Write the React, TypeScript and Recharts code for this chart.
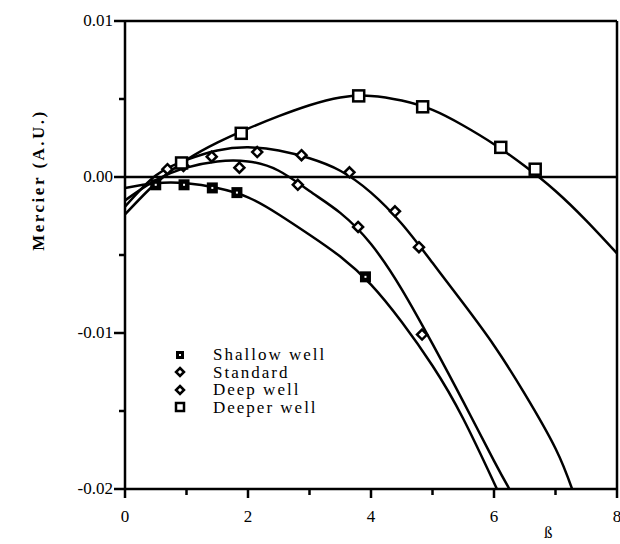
import React from 'react';
import { ComposedChart, Line, Scatter, XAxis, YAxis, ReferenceLine } from 'recharts';

// fitted curves
const shallowCurve = [
  { x: 0, y: -0.0007 }, { x: 0.5, y: -0.0004 }, { x: 1, y: -0.0004 }, { x: 1.5, y: -0.0007 },
  { x: 2, y: -0.0013 }, { x: 2.5, y: -0.0024 }, { x: 3, y: -0.0037 }, { x: 3.5, y: -0.0051 },
  { x: 4, y: -0.0069 }, { x: 4.5, y: -0.0093 }, { x: 5, y: -0.0121 }, { x: 5.5, y: -0.0155 },
  { x: 6, y: -0.0196 }, { x: 6.05, y: -0.02 },
];
const standardCurve = [
  { x: 0, y: -0.0015 }, { x: 0.5, y: -0.0002 }, { x: 1, y: 0.0006 }, { x: 1.5, y: 0.001 },
  { x: 2, y: 0.001 }, { x: 2.5, y: 0.0004 }, { x: 3, y: -0.0009 }, { x: 3.5, y: -0.0023 },
  { x: 4, y: -0.0043 }, { x: 4.5, y: -0.0072 }, { x: 5, y: -0.0107 }, { x: 5.5, y: -0.0144 },
  { x: 6, y: -0.0182 }, { x: 6.25, y: -0.02 },
];
const deepCurve = [
  { x: 0, y: -0.0019 }, { x: 0.5, y: 0.0001 }, { x: 1, y: 0.0011 }, { x: 1.5, y: 0.0017 },
  { x: 2, y: 0.0019 }, { x: 2.5, y: 0.0017 }, { x: 3, y: 0.0012 }, { x: 3.5, y: 0.0004 },
  { x: 4, y: -0.001 }, { x: 4.5, y: -0.003 }, { x: 5, y: -0.0055 }, { x: 5.5, y: -0.0081 },
  { x: 6, y: -0.0108 }, { x: 6.5, y: -0.0139 }, { x: 7, y: -0.0174 }, { x: 7.27, y: -0.02 },
];
const deeperCurve = [
  { x: 0, y: -0.0024 }, { x: 0.5, y: -0.0004 }, { x: 1, y: 0.0011 }, { x: 1.5, y: 0.0022 },
  { x: 2, y: 0.0031 }, { x: 2.5, y: 0.0039 }, { x: 3, y: 0.0046 }, { x: 3.5, y: 0.0051 },
  { x: 4, y: 0.0052 }, { x: 4.5, y: 0.0049 }, { x: 5, y: 0.0043 }, { x: 5.5, y: 0.0033 },
  { x: 6, y: 0.0021 }, { x: 6.5, y: 0.0007 }, { x: 7, y: -0.0009 }, { x: 7.5, y: -0.0028 },
  { x: 8, y: -0.0049 },
];

// measured points
const shallowPts = [
  { x: 0.5, y: -0.0005 }, { x: 0.96, y: -0.0005 }, { x: 1.42, y: -0.0007 },
  { x: 1.82, y: -0.001 }, { x: 3.91, y: -0.0064 },
];
const standardPts = [
  { x: 0.69, y: 0.0005 }, { x: 1.86, y: 0.0006 }, { x: 2.81, y: -0.0005 },
  { x: 3.79, y: -0.0032 }, { x: 4.83, y: -0.0101 },
];
const deepPts = [
  { x: 0.95, y: 0.0007 }, { x: 1.41, y: 0.0013 }, { x: 2.15, y: 0.0016 }, { x: 2.87, y: 0.0014 },
  { x: 3.65, y: 0.0003 }, { x: 4.39, y: -0.0022 }, { x: 4.78, y: -0.0045 },
];
const deeperPts = [
  { x: 0.92, y: 0.0009 }, { x: 1.89, y: 0.0028 }, { x: 3.8, y: 0.0052 },
  { x: 4.84, y: 0.0045 }, { x: 6.11, y: 0.0019 }, { x: 6.67, y: 0.0005 },
];

const xTicks = [0, 1, 2, 3, 4, 5, 6, 7, 8];
const xLabelled = [0, 2, 4, 6, 8];
const yTicks = [-0.02, -0.015, -0.01, -0.005, 0, 0.005, 0.01];
const yLabelled = [-0.02, -0.01, 0, 0.01];
const legendLabels = ['Shallow well', 'Standard', 'Deep well', 'Deeper well'];

const FONT = "'Liberation Serif', 'Times New Roman', 'DejaVu Serif', serif";

const XTick = (props: any) => {
  const { x, y, payload } = props;
  const major = xLabelled.includes(payload.value);
  return (
    <g>
      <line x1={x} x2={x} y1={y} y2={y + (major ? 9 : 6)} stroke="#000" strokeWidth={2.5} />
      {major && (
        <text x={x} y={y + 33} textAnchor="middle" style={{ fontFamily: FONT }} fontSize={17} fill="#000">
          {payload.value}
        </text>
      )}
    </g>
  );
};

const YTick = (props: any) => {
  const { x, y, payload } = props;
  const major = yLabelled.some(v => Math.abs(v - payload.value) < 1e-9);
  return (
    <g>
      <line x1={x} x2={x - (major ? 11 : 6)} y1={y} y2={y} stroke="#000" strokeWidth={2.5} />
      {major && (
        <text x={x - 12} y={y + 1} textAnchor="end" dominantBaseline="middle" style={{ fontFamily: FONT }} fontSize={17} fill="#000">
          {payload.value.toFixed(2)}
        </text>
      )}
    </g>
  );
};

const FilledSquare = ({ cx, cy, s = 11 }: any) => (
  <g>
    <rect x={cx - s / 2} y={cy - s / 2} width={s} height={s} fill="#000" />
    <rect x={cx - 1} y={cy - 1} width={2} height={2} fill="#fff" />
  </g>
);
const Diamond = ({ cx, cy, s = 11 }: any) => {
  const h = s / 2;
  return (
    <path d={`M${cx},${cy - h} L${cx + h},${cy} L${cx},${cy + h} L${cx - h},${cy} Z`} fill="#fff" stroke="#000" strokeWidth={2.5} />
  );
};
const OpenSquare = ({ cx, cy, s = 11 }: any) => (
  <rect x={cx - s / 2} y={cy - s / 2} width={s} height={s} fill="#fff" stroke="#000" strokeWidth={2.5} />
);

const legendShapes = [FilledSquare, Diamond, Diamond, OpenSquare];

const YLabel = () => (
  <text
    transform="translate(44,180) rotate(-90)"
    textAnchor="middle"
    style={{ fontFamily: FONT, fontSize: 17, fontWeight: 'bold', letterSpacing: 2.5 }}
    fill="#000"
  >
    Mercier (A.U.)
  </text>
);

export default function App() {
  const curves = [shallowCurve, standardCurve, deepCurve, deeperCurve];
  return (
    <div style={{ position: 'fixed', left: 0, top: 0, width: 620, height: 544, background: '#fff' }}>
      <ComposedChart width={620} height={544} margin={{ top: 21, right: 3, bottom: 0, left: 0 }}>
        <XAxis
          type="number"
          dataKey="x"
          domain={[0, 8]}
          ticks={xTicks}
          interval={0}
          height={55}
          tickSize={0}
          tickMargin={0}
          tickLine={false}
          tick={<XTick />}
          axisLine={{ stroke: '#000', strokeWidth: 2.5 }}
          allowDataOverflow
        />
        <YAxis
          type="number"
          dataKey="y"
          domain={[-0.02, 0.01]}
          ticks={yTicks}
          interval={0}
          width={125}
          tickSize={0}
          tickMargin={0}
          tickLine={false}
          tick={<YTick />}
          axisLine={{ stroke: '#000', strokeWidth: 2.5 }}
          allowDataOverflow
          label={{ content: () => <YLabel /> }}
        />
        <ReferenceLine y={0.01} stroke="#000" strokeWidth={2.5} />
        <ReferenceLine x={8} stroke="#000" strokeWidth={2.5} />
        <ReferenceLine y={0} stroke="#000" strokeWidth={2.5} />
        {curves.map((c, i) => (
          <Line
            key={i}
            data={c}
            dataKey="y"
            type="natural"
            stroke="#000"
            strokeWidth={2.5}
            dot={false}
            activeDot={false}
            isAnimationActive={false}
          />
        ))}
        <Scatter data={shallowPts} dataKey="y" shape={<FilledSquare />} isAnimationActive={false} />
        <Scatter data={standardPts} dataKey="y" shape={<Diamond s={10} />} isAnimationActive={false} />
        <Scatter data={deepPts} dataKey="y" shape={<Diamond s={10} />} isAnimationActive={false} />
        <Scatter data={deeperPts} dataKey="y" shape={<OpenSquare />} isAnimationActive={false} />
      </ComposedChart>
      <div style={{ position: 'absolute', left: 544, top: 524, fontFamily: FONT, fontSize: 17, lineHeight: '17px' }}>ß</div>
      <div style={{ position: 'absolute', left: 172, top: 346, fontFamily: FONT, fontSize: 17, lineHeight: '17px', letterSpacing: 2 }}>
        {legendLabels.map((l, i) => {
          const Shape = legendShapes[i];
          return (
            <div key={l} style={{ display: 'flex', alignItems: 'center', height: 17.5, whiteSpace: 'nowrap' }}>
              <svg width={18} height={16} style={{ flex: 'none' }}>
                <Shape cx={8} cy={8} s={8} />
              </svg>
              <span style={{ marginLeft: 23 }}>{l}</span>
            </div>
          );
        })}
      </div>
    </div>
  );
}
